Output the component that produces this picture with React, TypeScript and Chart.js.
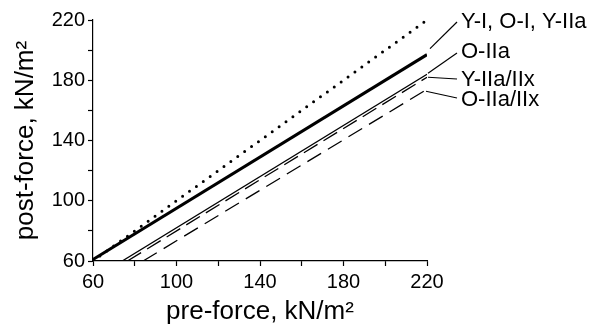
import React, { useEffect, useRef } from 'react';
import { Chart, registerables } from 'chart.js';

Chart.register(...registerables);

// ---- data ----
const groupLabels = ['Y-I, O-I, Y-IIa', 'O-IIa', 'Y-IIa/IIx', 'O-IIa/IIx'];

const identityPre = [60, 220];
const identityPost = [60, 220];

const fastPre = [60, 220]; // Y-I, O-I, Y-IIa
const fastPost = [61, 197];

const oIIaPre = [74, 220];
const oIIaPost = [60, 184];

const yIIaIIxPre = [76.5, 220];
const yIIaIIxPost = [60, 182];

const oIIaIIxPre = [84, 220];
const oIIaIIxPost = [60, 174];

const axisMin = 60;
const axisMax = 220;
const tickStep = 20;
const labelEvery = 40;

const xTitle = 'pre-force, kN/m\u00B2';
const yTitle = 'post-force, kN/m\u00B2';

const FONT = "'Liberation Sans', Arial, sans-serif";

const pts = (xs: number[], ys: number[]) => xs.map((x, i) => ({ x, y: ys[i] }));

const labelPlugin = {
  id: 'sideLabels',
  afterDraw(chart: any) {
    const { ctx, chartArea } = chart;
    const xs = chart.scales.x;
    const ys = chart.scales.y;
    const ends = [fastPost[1], oIIaPost[1], yIIaIIxPost[1], oIIaIIxPost[1]];
    const startDy = [-6, -1, 0, 2];
    const startDx = [3, 1, 1, -1];
    const textY = [22, 52, 80, 100];
    const leaderEndY = [22, 53, 79, 98];
    const textX = chartArea.right + 34;
    ctx.save();
    ctx.strokeStyle = '#000';
    ctx.lineWidth = 1.2;
    ctx.fillStyle = '#000';
    ctx.font = `22px ${FONT}`;
    ctx.textBaseline = 'middle';
    ctx.textAlign = 'left';
    groupLabels.forEach((lab, i) => {
      const sx = xs.getPixelForValue(axisMax) + startDx[i];
      const sy = ys.getPixelForValue(ends[i]) + startDy[i];
      ctx.beginPath();
      ctx.moveTo(sx, sy);
      ctx.lineTo(textX - 4, leaderEndY[i]);
      ctx.stroke();
      ctx.fillText(lab, textX, textY[i]);
    });
    ctx.restore();
  },
};

export default function App() {
  const ref = useRef<HTMLCanvasElement | null>(null);

  useEffect(() => {
    if (!ref.current) return;
    const tickLabel = (v: any) => ((Number(v) - axisMin) % labelEvery === 0 ? String(v) : '');
    const chart = new Chart(ref.current, {
      type: 'line',
      data: {
        datasets: [
          {
            label: 'identity',
            data: pts(identityPre, identityPost),
            borderColor: '#000',
            borderWidth: 3,
            borderDash: [0, 8.5],
            borderCapStyle: 'round',
            pointRadius: 0,
            fill: false,
          },
          {
            label: groupLabels[0],
            data: pts(fastPre, fastPost),
            borderColor: '#000',
            borderWidth: 3,
            pointRadius: 0,
            fill: false,
          },
          {
            label: groupLabels[1],
            data: pts(oIIaPre, oIIaPost),
            borderColor: '#000',
            borderWidth: 1.3,
            pointRadius: 0,
            fill: false,
          },
          {
            label: groupLabels[2],
            data: pts(yIIaIIxPre, yIIaIIxPost),
            borderColor: '#000',
            borderWidth: 1.3,
            borderDash: [16, 7],
            pointRadius: 0,
            fill: false,
          },
          {
            label: groupLabels[3],
            data: pts(oIIaIIxPre, oIIaIIxPost),
            borderColor: '#000',
            borderWidth: 1.3,
            borderDash: [16, 8],
            pointRadius: 0,
            fill: false,
          },
        ],
      },
      options: {
        animation: false,
        responsive: false,
        devicePixelRatio: 1,
        layout: { padding: { top: 20, right: 172, left: 0, bottom: 0 } },
        plugins: { legend: { display: false }, tooltip: { enabled: false } },
        scales: {
          x: {
            type: 'linear',
            min: axisMin,
            max: axisMax,
            afterFit: (s: any) => {
              s.height = 66;
            },
            ticks: {
              stepSize: tickStep,
              autoSkip: false,
              maxRotation: 0,
              color: '#000',
              font: { family: FONT, size: 20 },
              padding: 4,
              callback: tickLabel,
            },
            grid: {
              drawOnChartArea: false,
              drawTicks: true,
              tickLength: 5,
              tickColor: '#000',
              tickWidth: 1.2,
            },
            border: { display: true, color: '#000', width: 1.2 },
            title: {
              display: true,
              text: xTitle,
              color: '#000',
              font: { family: FONT, size: 26 },
              padding: { top: 0, bottom: 0 },
            },
          },
          y: {
            type: 'linear',
            min: axisMin,
            max: axisMax,
            afterFit: (s: any) => {
              s.width = 93;
            },
            ticks: {
              stepSize: tickStep,
              autoSkip: false,
              color: '#000',
              font: { family: FONT, size: 20 },
              padding: 3,
              callback: tickLabel,
            },
            grid: {
              drawOnChartArea: false,
              drawTicks: true,
              tickLength: 5,
              tickColor: '#000',
              tickWidth: 1.2,
            },
            border: { display: true, color: '#000', width: 1.2 },
            title: {
              display: true,
              text: yTitle,
              color: '#000',
              font: { family: FONT, size: 26 },
              padding: { top: 10, bottom: 0 },
            },
          },
        },
      },
      plugins: [labelPlugin],
    } as any);
    return () => chart.destroy();
  }, []);

  return (
    <div style={{ position: 'absolute', left: 0, top: 0, width: 599, height: 327, background: '#fff' }}>
      <canvas ref={ref} width={599} height={327} style={{ display: 'block' }} />
    </div>
  );
}
